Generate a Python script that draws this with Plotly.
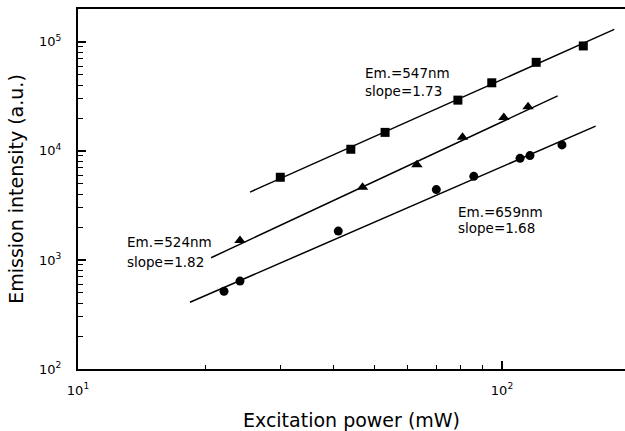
import math
import plotly.graph_objects as go

# ---- data (log-log) ----
sq_x = [30.0, 44.0, 53.0, 78.7, 94.6, 120.4, 155.5]
sq_y = [5730, 10350, 14780, 29200, 42100, 64900, 91700]

tri_x = [24.1, 46.9, 63.0, 80.7, 101.0, 115.2]
tri_y = [1506, 4640, 7470, 13320, 20280, 25370]

cir_x = [22.1, 24.1, 41.1, 70.0, 85.8, 110.3, 116.4, 138.5]
cir_y = [515, 640, 1840, 4420, 5840, 8540, 9060, 11350]

# fitted lines (end points)
fit547_x = [25.45, 184.0]
fit547_y = [4192, 129900]
fit524_x = [20.6, 135.3]
fit524_y = [1048, 31990]
fit659_x = [18.37, 166.3]
fit659_y = [409, 16880]

x_tickvals = [10, 100]
x_ticktext = ["10<sup>1</sup>", "10<sup>2</sup>"]
y_tickvals = [100, 1000, 10000, 100000]
y_ticktext = ["10<sup>2</sup>", "10<sup>3</sup>", "10<sup>4</sup>", "10<sup>5</sup>"]
x_minor = [20, 30, 40, 50, 60, 70, 80, 90]
y_minor = [200, 300, 400, 500, 600, 700, 800, 900,
           2000, 3000, 4000, 5000, 6000, 7000, 8000, 9000,
           20000, 30000, 40000, 50000, 60000, 70000, 80000, 90000]

FONT = "DejaVu Sans"
fig = go.Figure()

line_style = dict(color="black", width=1.5)
for fx, fy in [(fit547_x, fit547_y), (fit524_x, fit524_y), (fit659_x, fit659_y)]:
    fig.add_trace(go.Scatter(x=fx, y=fy, mode="lines", line=line_style,
                             showlegend=False, hoverinfo="skip"))

fig.add_trace(go.Scatter(x=sq_x, y=sq_y, mode="markers",
                         marker=dict(symbol="square", size=9, color="black"),
                         showlegend=False))
fig.add_trace(go.Scatter(x=tri_x, y=tri_y, mode="markers",
                         marker=dict(symbol="triangle-up", size=10, color="black"),
                         showlegend=False))
fig.add_trace(go.Scatter(x=cir_x, y=cir_y, mode="markers",
                         marker=dict(symbol="circle", size=9, color="black"),
                         showlegend=False))

labels = [
    ("Em.=547nm", 363, 73), ("slope=1.73", 363, 91),
    ("Em.=524nm", 125, 242), ("slope=1.82", 125, 262),
    ("Em.=659nm", 456, 212), ("slope=1.68", 456, 228),
]
for txt, px, py in labels:
    fig.add_annotation(
        x=1 + (px - 78) / 424.0,
        y=2 + (369 - py) / 109.06,
        xref="x", yref="y", text=txt, showarrow=False,
        xanchor="left", yanchor="middle",
        font=dict(family=FONT, size=13.5, color="black"),
    )

axis_common = dict(
    type="log", showgrid=False, zeroline=False,
    showline=True, linecolor="black", linewidth=2,
    ticks="inside", ticklen=8, tickwidth=1.5, tickcolor="black",
    tickfont=dict(family=FONT, size=13, color="black"),
    title_font=dict(family=FONT, size=19, color="black"),
)

fig.update_xaxes(
    **axis_common,
    range=[1, 1 + (625 - 78) / 424.0],
    tickmode="array", tickvals=x_tickvals, ticktext=x_ticktext,
    mirror=True,
    ticklabelstandoff=8,
    minor=dict(ticks="inside", ticklen=4, tickwidth=1.3, tickcolor="black",
               tickmode="array", tickvals=x_minor, showgrid=False),
    title_text="Excitation power (mW)", title_standoff=18,
)
fig.update_yaxes(
    **axis_common,
    range=[2, math.log10(2e5)],
    tickmode="array", tickvals=y_tickvals, ticktext=y_ticktext,
    ticklabelstandoff=12,
    minor=dict(ticks="inside", ticklen=5, tickwidth=1.3, tickcolor="black",
               tickmode="array", tickvals=y_minor, showgrid=False),
    title_text="Emission intensity (a.u.)", title_standoff=10,
)

fig.update_layout(
    width=625, height=431,
    margin=dict(l=78, r=0, t=9, b=62, autoexpand=False),
    plot_bgcolor="white", paper_bgcolor="white",
    font=dict(family=FONT, color="black"),
)

fig.write_html("out.html")
